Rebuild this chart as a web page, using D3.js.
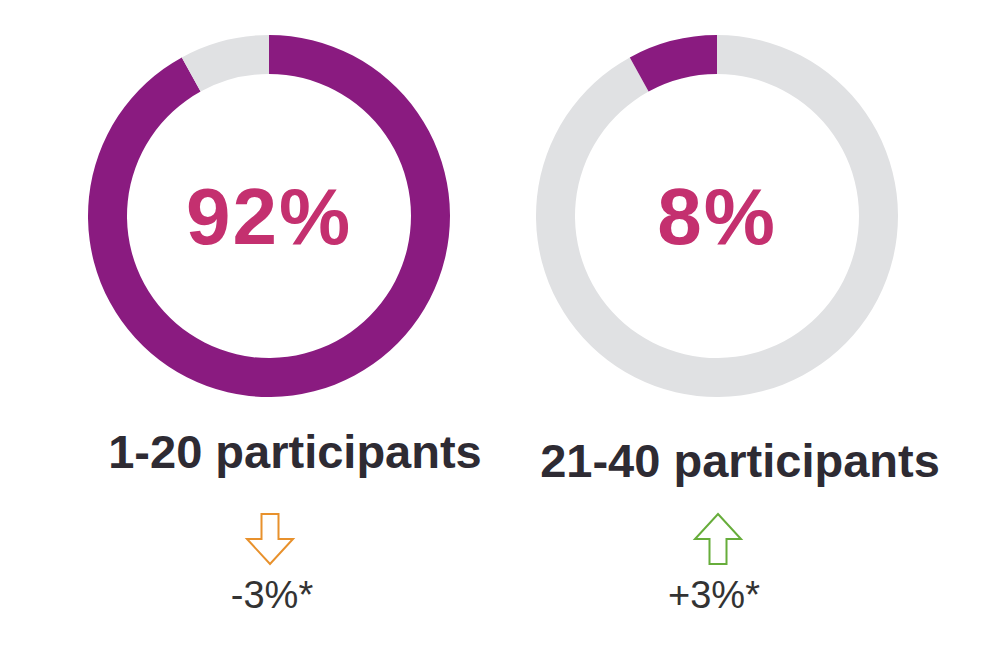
<!DOCTYPE html>
<html>
<head>
<meta charset="utf-8">
<script src="https://cdn.jsdelivr.net/npm/d3@7"></script>
<style>
  html, body { margin: 0; padding: 0; background: #ffffff; }
  svg { display: block; }
</style>
</head>
<body>
<svg id="chart" width="1006" height="648"></svg>
<script>
// ---- data ----
const categories = ["1-20 participants", "21-40 participants"];
const shares = [92, 8];
const changes = ["-3%*", "+3%*"];
const directions = ["down", "up"];

// ---- styles ----
const purple = "#8a1b80";
const gray = "#e0e1e3";
const pink = "#c4306f";
const dark = "#2e2b33";
const arrowColors = { down: "#e8912c", up: "#67ad3b" };

const svg = d3.select("#chart");
const font = "'Liberation Sans', Arial, Helvetica, sans-serif";

const centersX = d3.scaleOrdinal().domain(categories).range([269, 717]);
const cy = 216;
const outerR = 181, innerR = 142;

const pie = d3.pie().sort(null).value(d => d);
const arc = d3.arc().innerRadius(innerR).outerRadius(outerR);

const labelX = d3.scaleOrdinal().domain(categories).range([295, 740]);
const labelY = d3.scaleOrdinal().domain(categories).range([468, 477]);
const changeX = d3.scaleOrdinal().domain(categories).range([272, 714]);
const arrowX = d3.scaleOrdinal().domain(categories).range([270, 718]);

categories.forEach((cat, ci) => {
  const cx = centersX(cat);
  const g = svg.append("g").attr("transform", `translate(${cx},${cy})`);
  g.selectAll("path")
    .data(pie(shares))
    .join("path")
    .attr("d", arc)
    .attr("fill", (d, i) => i === ci ? purple : gray);

  g.append("text")
    .attr("x", 0)
    .attr("y", 28)
    .attr("text-anchor", "middle")
    .attr("font-family", font)
    .attr("font-weight", "bold")
    .attr("font-size", 80)
    .attr("letter-spacing", 2)
    .attr("fill", pink)
    .text(shares[ci] + "%");

  svg.append("text")
    .attr("x", labelX(cat))
    .attr("y", labelY(cat))
    .attr("text-anchor", "middle")
    .attr("font-family", font)
    .attr("font-weight", "bold")
    .attr("font-size", 47)
    .attr("fill", dark)
    .text(cat);

  // arrow
  const ax = arrowX(cat);
  const top = 514, bottom = 564, headW = 23, shaftW = 8.5, headLen = 25;
  let pts;
  if (directions[ci] === "down") {
    const hy = bottom - headLen;
    pts = [[ax - shaftW, top], [ax + shaftW, top], [ax + shaftW, hy], [ax + headW, hy],
           [ax, bottom], [ax - headW, hy], [ax - shaftW, hy]];
  } else {
    const hy = top + headLen;
    pts = [[ax, top], [ax + headW, hy], [ax + shaftW, hy], [ax + shaftW, bottom],
           [ax - shaftW, bottom], [ax - shaftW, hy], [ax - headW, hy]];
  }
  svg.append("polygon")
    .attr("points", pts.map(p => p.join(",")).join(" "))
    .attr("fill", "none")
    .attr("stroke", arrowColors[directions[ci]])
    .attr("stroke-width", 2);

  svg.append("text")
    .attr("x", changeX(cat))
    .attr("y", 608)
    .attr("text-anchor", "middle")
    .attr("font-family", font)
    .attr("font-size", 38)
    .attr("fill", "#333333")
    .text(changes[ci]);
});
</script>
</body>
</html>
